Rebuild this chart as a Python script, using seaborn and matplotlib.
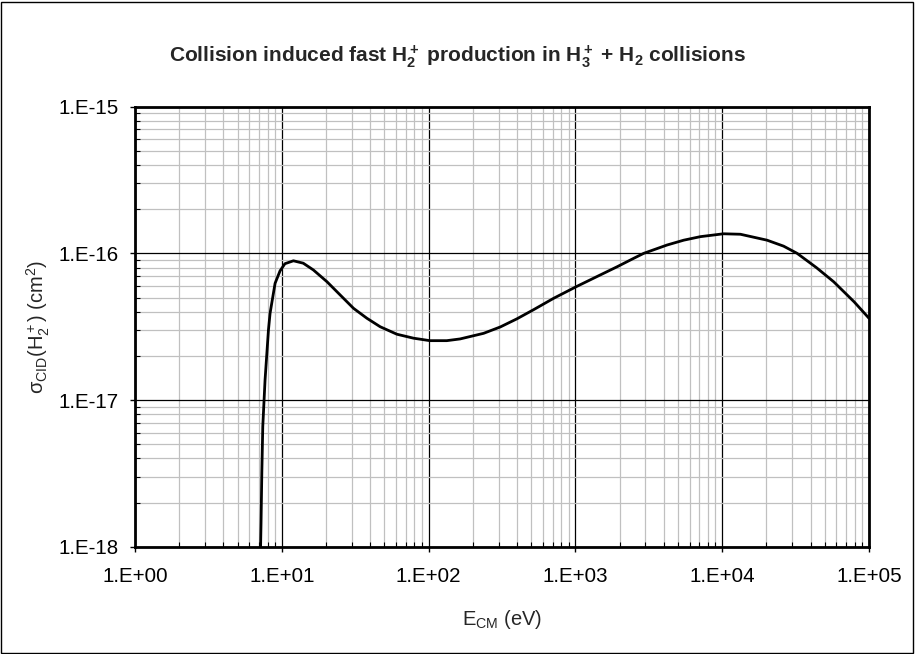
import matplotlib
matplotlib.use("Agg")
import matplotlib.pyplot as plt
import matplotlib.ticker as mticker
from matplotlib.patches import Rectangle
import seaborn as sns
import pandas as pd

# Data
energy_ev = [7.10, 7.22, 7.31, 7.42, 7.69, 8.11, 8.32, 9.0, 9.73, 10.5, 12.0, 14.0,
             16.4, 20.3, 25.0, 30.8, 38.0, 46.8, 60.8, 79.0, 102, 133, 164,
             237, 308, 400, 519, 711, 1014, 1479, 1922, 2494, 2917, 4210,
             5470, 7100, 10200, 13300, 20200, 26200, 32400, 43800, 57500,
             79400, 100000]
sigma_cm2 = [6.0e-19, 1.45e-18, 3.18e-18, 6.6e-18, 1.37e-17, 3.0e-17, 3.91e-17, 6.25e-17,
             7.6e-17, 8.5e-17, 8.9e-17, 8.57e-17,
             7.71e-17, 6.41e-17, 5.2e-17, 4.22e-17, 3.61e-17, 3.16e-17, 2.81e-17,
             2.64e-17, 2.54e-17, 2.54e-17, 2.61e-17,
             2.85e-17, 3.15e-17, 3.58e-17, 4.13e-17, 4.94e-17, 5.93e-17, 7.13e-17,
             8.1e-17, 9.25e-17, 1.0e-16, 1.14e-16,
             1.23e-16, 1.30e-16, 1.36e-16, 1.35e-16, 1.23e-16, 1.12e-16, 1.0e-16,
             8.0e-17, 6.4e-17, 4.66e-17, 3.61e-17]

x_ticks = [1e0, 1e1, 1e2, 1e3, 1e4, 1e5]
x_tick_labels = ["1.E+00", "1.E+01", "1.E+02", "1.E+03", "1.E+04", "1.E+05"]
y_ticks = [1e-18, 1e-17, 1e-16, 1e-15]
y_tick_labels = ["1.E-18", "1.E-17", "1.E-16", "1.E-15"]

title_text = r"Collision induced fast $\mathbf{H_2^+}$ production in $\mathbf{H_3^+}$ + $\mathbf{H_2}$ collisions"
x_label = r"E$_{\rm CM}$ (eV)"
y_label = r"σ$_{\rm CID}$(H$_2^+$) (cm$^2$)"

sns.set_style("white")
plt.rcParams["font.family"] = ["Liberation Sans", "DejaVu Sans"]
plt.rcParams["mathtext.fontset"] = "custom"
plt.rcParams["mathtext.rm"] = "Liberation Sans"
plt.rcParams["mathtext.it"] = "Liberation Sans"
plt.rcParams["mathtext.bf"] = "Liberation Sans:bold"
plt.rcParams["mathtext.sf"] = "Liberation Sans"

df = pd.DataFrame({"E": energy_ev, "sigma": sigma_cm2})

fig = plt.figure(figsize=(9.15, 6.54), dpi=100)
ax = fig.add_axes([135 / 915, 1 - 546.7 / 654, (869 - 135) / 915, (546.7 - 106.7) / 654])

sns.lineplot(data=df, x="E", y="sigma", ax=ax, color="black", linewidth=2.0,
             sort=False, zorder=5)

ax.set_xscale("log")
ax.set_yscale("log")
ax.set_xlim(1e0, 1e5)
ax.set_ylim(1e-18, 1e-15)

ax.set_xticks(x_ticks)
ax.set_xticklabels(x_tick_labels)
ax.set_yticks(y_ticks)
ax.set_yticklabels(y_tick_labels)
ax.xaxis.set_minor_locator(mticker.LogLocator(base=10, subs=range(2, 10), numticks=20))
ax.yaxis.set_minor_locator(mticker.LogLocator(base=10, subs=range(2, 10), numticks=20))
ax.xaxis.set_minor_formatter(mticker.NullFormatter())
ax.yaxis.set_minor_formatter(mticker.NullFormatter())

ax.grid(True, which="minor", color="#c0c0c0", linewidth=0.9, zorder=0)
ax.grid(True, which="major", color="black", linewidth=0.9, zorder=1)
ax.set_axisbelow(True)

ax.tick_params(axis="both", which="major", direction="out", length=3.6, width=1,
               color="black", labelsize=14.8, labelcolor="black",
               bottom=True, left=True)
ax.tick_params(axis="x", which="major", pad=11)
ax.tick_params(axis="y", which="major", pad=8)
ax.tick_params(axis="both", which="minor", direction="in", length=3.6, width=0.8,
               color="black", bottom=True, left=True)

for side in ["left", "bottom", "top", "right"]:
    ax.spines[side].set_visible(True)
    ax.spines[side].set_color("black")
    ax.spines[side].set_linewidth(2.0)

ax.set_xlabel(x_label, fontsize=14.5)
ax.set_ylabel(y_label, fontsize=14.5)
ax.xaxis.set_label_coords(0.5, (546.7 - 608) / 440)
ax.yaxis.set_label_coords((52 - 135) / 734, 0.5)

fig.text(0.5, 1 - 57 / 654, title_text, ha="center", va="center",
         fontsize=15, fontweight="bold")

fig.patches.append(Rectangle((0.001, 0.0015), 0.997, 0.996, transform=fig.transFigure,
                             fill=False, edgecolor="black", linewidth=1.0))

fig.savefig("out.png", dpi=100)
